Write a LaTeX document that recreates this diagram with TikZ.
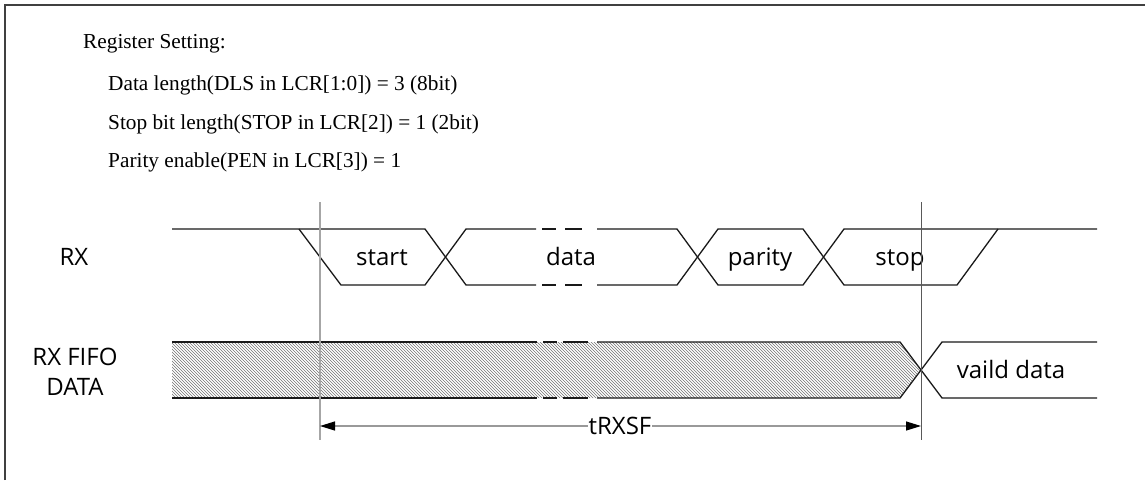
\documentclass[tikz,border=0pt]{standalone}
\usepackage{fontspec}
\setmainfont{Liberation Serif}
\newfontfamily\labfont{Open Sans}
\usetikzlibrary{patterns,arrows.meta}
\begin{document}
\begin{tikzpicture}[x=1pt,y=-1pt,
  wave/.style={line width=1.3pt, black!90, line join=miter},
  lbl/.style={font=\labfont\fontsize{24}{30}\selectfont, inner sep=0pt, anchor=base},
  reg/.style={font=\fontsize{21.3}{24}\selectfont, anchor=base west, inner sep=0pt},
  guideA/.style={black!35, line width=1.2pt},
  guideB/.style={black!65, line width=0.8pt}]
\useasboundingbox (0,0) rectangle (1145,480);
\draw[line width=2pt, black!75] (5,480) -- (5,5) -- (1145,5);

% register text
\node[reg] (r0) at (83,48) {Register Setting:};
\node[reg] (r1) at (108,90) {Data length(DLS in LCR[1:0]) = 3 (8bit)};
\node[reg] (r2) at (108,129) {Stop bit length(STOP in LCR[2]) = 1 (2bit)};
\node[reg] (r3) at (108,167) {Parity enable(PEN in LCR[3]) = 1};

% hatched FIFO band
\fill[pattern=north west lines, pattern color=black!55] (172,342) -- (900,342) -- (921,369) -- (900,398) -- (172,398) -- cycle;

% RX waveform
\draw[wave] (172,229) -- (425,229) -- (466,285) -- (536,285);
\draw[wave] (299,229) -- (341,285) -- (425,285) -- (466,229) -- (536,229);
\draw[wave] (542,229) -- (556,229) (565,229) -- (582,229)
            (542,285) -- (556,285) (565,285) -- (582,285);
\draw[wave] (597,229) -- (677,229) -- (718,285) -- (803,285) -- (844,229) -- (1097,229);
\draw[wave] (597,285) -- (677,285) -- (718,229) -- (803,229) -- (844,285) -- (957,285) -- (998,229);

% FIFO waveform
\draw[wave] (172,342) -- (537,342) (172,398) -- (537,398);
\draw[wave] (543,342) -- (557,342) (563,342) -- (588,342)
            (543,398) -- (557,398) (563,398) -- (588,398);
\draw[wave] (597,342) -- (900,342) -- (942,398) -- (1097,398);
\draw[wave] (597,398) -- (900,398) -- (942,342) -- (1097,342);

% labels
\node[lbl] (rx) at (74,265) {RX};
\node[lbl] (fifo1) at (75,365) {RX FIFO};
\node[lbl] (fifo2) at (75,395) {DATA};
\node[lbl] (start) at (382,265) {start};
\node[lbl] (data) at (571,265) {data};
\node[lbl] (parity) at (760,265) {parity};
\node[lbl] (stop) at (900,265) {stop};
\node[lbl] (valid) at (1011,378) {vaild data};

% guides
\coordinate (g1t) at (320,202); \coordinate (g1b) at (320,440);
\coordinate (g2t) at (921,202); \coordinate (g2b) at (921,440);
\draw[guideA] (g1t) -- (g1b);
\draw[guideB] (g2t) -- (g2b);

% tRXSF arrow
\coordinate (a1) at (320,426); \coordinate (a2) at (921,426);
\draw[black!40, line width=1.2pt, {Triangle[black,length=15pt,width=9pt]}-{Triangle[black,length=15pt,width=9pt]}] (a1) -- (a2);
\node[lbl, fill=white, inner xsep=1pt] (t) at (620,434) {tRXSF};
\end{tikzpicture}
\end{document}
